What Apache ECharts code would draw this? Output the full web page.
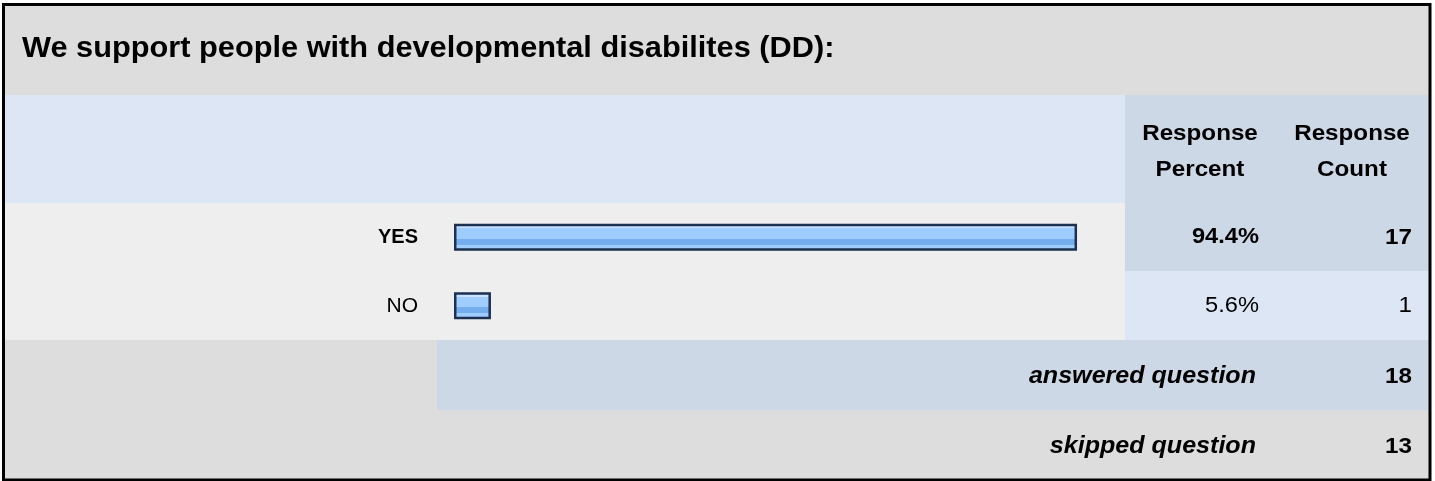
<!DOCTYPE html>
<html>
<head>
<meta charset="utf-8">
<script src="https://cdn.jsdelivr.net/npm/echarts@6/dist/echarts.min.js"></script>
<style>
html,body{margin:0;padding:0;background:#fff;}
#chart{width:1435px;height:481px;}
</style>
</head>
<body>
<div id="chart"></div>
<script>
// ---- data ----
const title = 'We support people with developmental disabilites (DD):';
const categories = ['YES', 'NO'];
const percents = [94.4, 5.6];
const counts = [17, 1];
const headerPercent = ['Response', 'Percent'];
const headerCount = ['Response', 'Count'];
const answeredLabel = 'answered question';
const answeredCount = 18;
const skippedLabel = 'skipped question';
const skippedCount = 13;

// ---- layout ----
const FONT = '"Liberation Sans", Arial, Helvetica, sans-serif';
const SX = 1.1;
const rowTop = [203, 271];
const rowH = [68, 69];

function rect(x, y, w, h, fill) {
  return { type: 'rect', z: 0, silent: true, shape: { x: x, y: y, width: w, height: h }, style: { fill: fill } };
}
function txt(t, x, y, font, align, sx) {
  return {
    type: 'text', z: 100, silent: true, x: x, y: y, scaleX: sx || SX,
    style: { text: t, x: 0, y: 0, font: font, fill: '#000', align: align, verticalAlign: 'middle' }
  };
}

const g = [];
// backgrounds
g.push(rect(4, 5, 1426, 90, '#dddddd'));
g.push(rect(4, 95, 1121, 108, '#dce6f4'));
g.push(rect(1125, 95, 305, 108, '#ccd8e5'));
g.push(rect(4, 203, 1121, 137, '#eeeeee'));
g.push(rect(1125, 203, 305, 68, '#ccd8e5'));
g.push(rect(1125, 271, 305, 69, '#dce6f4'));
g.push(rect(4, 340, 433, 70, '#dddddd'));
g.push(rect(437, 340, 993, 70, '#ccd8e5'));
g.push(rect(4, 410, 1426, 70, '#dddddd'));
// border
g.push({ type: 'rect', z: 120, silent: true, shape: { x: 3.5, y: 4.5, width: 1426.5, height: 475.5 }, style: { fill: 'none', stroke: '#000', lineWidth: 3 } });

// title
g.push(txt(title, 22, 49, 'bold 29px ' + FONT, 'left', 1.06));
// headers
g.push(txt(headerPercent[0], 1200, 134, 'bold 22px ' + FONT, 'center'));
g.push(txt(headerPercent[1], 1200, 170, 'bold 22px ' + FONT, 'center'));
g.push(txt(headerCount[0], 1352, 134, 'bold 22px ' + FONT, 'center'));
g.push(txt(headerCount[1], 1352, 170, 'bold 22px ' + FONT, 'center'));
// rows
categories.forEach(function (c, i) {
  const cy = rowTop[i] + rowH[i] / 2 + 0.5;
  const w = i === 0 ? 'bold ' : '';
  g.push(txt(percents[i].toFixed(1) + '%', 1259, cy, w + '21.5px ' + FONT, 'right'));
  g.push(txt(String(counts[i]), 1412, cy, w + '22px ' + FONT, 'right'));
});
g.push(txt(answeredLabel, 1256, 377, 'italic bold 23px ' + FONT, 'right', 1.09));
g.push(txt(String(answeredCount), 1412, 377, 'bold 22px ' + FONT, 'right'));
g.push(txt(skippedLabel, 1256, 447, 'italic bold 23px ' + FONT, 'right', 1.09));
g.push(txt(String(skippedCount), 1412, 447, 'bold 22px ' + FONT, 'right'));

const barFill = {
  type: 'linear', x: 0, y: 0, x2: 0, y2: 1,
  colorStops: [
    { offset: 0, color: '#c6e2ff' }, { offset: 0.16, color: '#c6e2ff' },
    { offset: 0.16, color: '#9fcdff' }, { offset: 0.55, color: '#9fcdff' },
    { offset: 0.55, color: '#74aeef' }, { offset: 0.78, color: '#74aeef' },
    { offset: 0.78, color: '#9fcdff' }, { offset: 1, color: '#9fcdff' }
  ]
};

const chart = echarts.init(document.getElementById('chart'), null, { renderer: 'canvas' });
chart.setOption({
  animation: false,
  backgroundColor: '#ffffff',
  graphic: { elements: g },
  grid: { left: 454, top: 203, width: 660, height: 137, containLabel: false },
  xAxis: { type: 'value', min: 0, max: 100, show: false },
  yAxis: {
    type: 'category', data: categories, inverse: true,
    axisLine: { show: false }, axisTick: { show: false }, splitLine: { show: false },
    axisLabel: {
      margin: 36, fontSize: 21, fontFamily: FONT, color: '#000',
      formatter: function (v, i) { return i === 0 ? '{b|' + v + '}' : '{n|' + v + '}'; },
      rich: {
        b: { fontWeight: 'bold', fontSize: 20, fontFamily: FONT, color: '#000' },
        n: { fontWeight: 'normal', fontSize: 21, fontFamily: FONT, color: '#000' }
      }
    }
  },
  series: [{
    type: 'bar', z: 5, data: percents, barWidth: 27,
    itemStyle: { color: barFill, borderColor: '#1c3152', borderWidth: 2.5 },
    emphasis: { disabled: true }
  }]
});
</script>
</body>
</html>
